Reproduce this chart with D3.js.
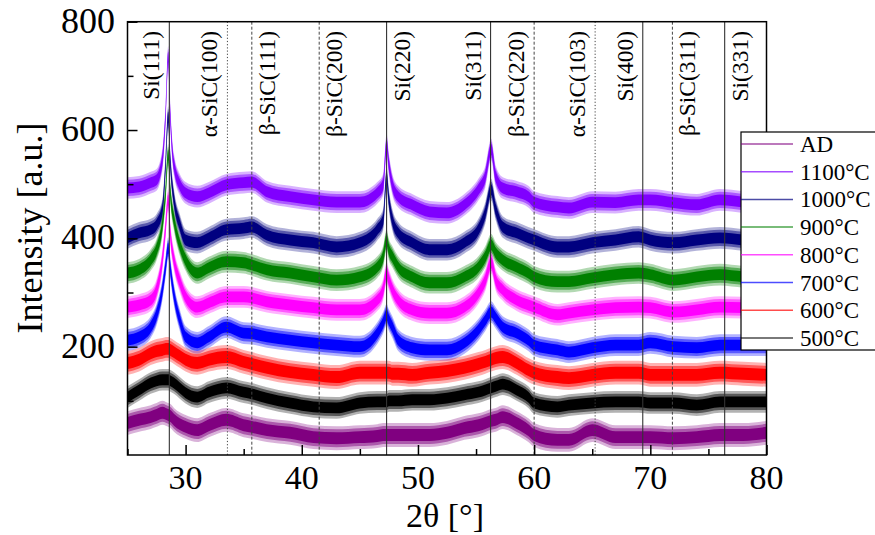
<!DOCTYPE html>
<html lang="en">
<head>
<meta charset="utf-8">
<title>XRD patterns</title>
<script src="https://cdn.jsdelivr.net/npm/d3@7"></script>
<style>
  body { margin: 0; background: #fff; }
  text { font-family: "Liberation Serif", "Times New Roman", serif; fill: #000; }
</style>
</head>
<body>
<script>
// 2theta sample positions (deg)
var theta = [25, 26, 27, 27.5, 28, 28.3, 28.5, 28.7, 29, 29.5, 30, 31, 32, 33.5, 35, 35.7, 37, 39, 41, 43,
             45, 46.5, 47, 47.3, 47.5, 47.8, 48.3, 49.5, 51, 52.5, 54, 55.2, 55.8, 56.3, 56.7, 57.3, 58.5, 59.5,
             60, 62, 63, 65, 67, 69, 70, 72, 74, 76, 78, 80];

// intensity (centre of the noisy trace)
var sAD   = [59, 65, 70, 74, 78, 76, 74, 72, 65, 57, 52, 46, 55, 65, 55, 52, 46, 41, 33, 31,
             33, 35, 37, 37, 37, 37, 37, 37, 37, 41, 50, 55, 59, 63, 65, 70, 59, 46,
             37, 28, 28, 46, 33, 33, 33, 31, 33, 37, 37, 41];
var s1100 = [493, 495, 503, 508, 545, 637, 735, 619, 536, 499, 484, 477, 484, 499, 503, 504, 486, 477, 471, 467,
             467, 484, 499, 573, 536, 499, 477, 462, 449, 447, 462, 490, 514, 564, 514, 493, 486, 477,
             467, 458, 456, 467, 466, 471, 471, 466, 462, 471, 467, 462];
var s1000 = [401, 410, 416, 425, 453, 545, 624, 536, 471, 425, 397, 392, 401, 416, 419, 421, 406, 397, 392, 384,
             392, 416, 434, 512, 471, 434, 410, 392, 379, 379, 392, 416, 447, 490, 453, 421, 410, 401,
             397, 384, 384, 392, 397, 403, 397, 392, 397, 401, 397, 392];
var s900  = [336, 342, 360, 379, 425, 490, 554, 481, 434, 388, 360, 336, 346, 357, 355, 351, 342, 336, 329, 323,
             329, 347, 366, 397, 379, 366, 347, 329, 318, 318, 329, 347, 366, 388, 373, 360, 347, 336,
             329, 320, 320, 327, 333, 336, 333, 323, 329, 333, 329, 327];
var s800  = [273, 277, 286, 305, 360, 425, 471, 406, 360, 320, 292, 273, 281, 292, 292, 290, 283, 277, 272, 268,
             268, 286, 305, 336, 323, 305, 286, 268, 262, 262, 273, 299, 323, 355, 323, 305, 286, 277,
             273, 259, 262, 268, 272, 273, 272, 264, 268, 273, 272, 268];
var s700  = [212, 218, 236, 259, 305, 351, 382, 342, 296, 249, 218, 207, 218, 236, 225, 224, 218, 212, 207, 203,
             200, 225, 244, 259, 249, 236, 212, 198, 194, 194, 207, 231, 249, 264, 253, 236, 225, 212,
             203, 194, 190, 198, 203, 203, 207, 200, 198, 203, 203, 203];
var s600  = [170, 176, 188, 192, 194, 196, 196, 194, 190, 183, 176, 170, 176, 181, 172, 168, 161, 153, 148, 144,
             152, 152, 152, 152, 152, 150, 150, 148, 152, 155, 161, 168, 172, 176, 179, 181, 170, 157,
             152, 144, 142, 148, 152, 152, 148, 148, 148, 152, 150, 148];
var s500  = [107, 120, 133, 137, 139, 139, 139, 137, 133, 124, 115, 107, 116, 124, 116, 113, 105, 96, 89, 87,
             96, 98, 98, 98, 100, 100, 100, 102, 102, 105, 111, 116, 120, 124, 127, 131, 120, 107,
             96, 89, 92, 96, 98, 98, 96, 96, 92, 98, 98, 98];

// half height of the noise band of each trace (a.u.)
var noise = [22, 20, 20, 20, 20, 20, 22, 20];

var seriesNames  = ["AD", "1100°C", "1000°C", "900°C", "800°C", "700°C", "600°C", "500°C"];
var seriesValues = [sAD, s1100, s1000, s900, s800, s700, s600, s500];
var seriesColors = ["#800080", "#8000ff", "#000080", "#008000", "#ff00ff", "#0000ff", "#ff0000", "#000000"];

// reflection markers
var peakNames = ["Si(111)", "α-SiC(100)", "β-SiC(111)", "β-SiC(200)", "Si(220)", "Si(311)",
                 "β-SiC(220)", "α-SiC(103)", "Si(400)", "β-SiC(311)", "Si(331)"];
var peakPos   = [28.6, 33.6, 35.7, 41.5, 47.3, 56.25, 60.0, 65.25, 69.35, 71.9, 76.4];
var peakKind  = ["Si", "a", "b", "b", "Si", "Si", "b", "a", "Si", "b", "Si"];
var labelSide = [-1, -1, 1, 1, 1, -1, -1, -1, -1, 1, 1];

var xTicks = [30, 40, 50, 60, 70, 80];
var yTicks = [200, 400, 600, 800];

var w = 875, h = 535;
var m = {left: 127.5, right: 108.5, top: 21.7, bottom: 80};

var svg = d3.select("body").append("svg")
  .attr("width", w)
  .attr("height", h);

var x = d3.scaleLinear().domain([25, 80]).range([m.left, w - m.right]);
var y = d3.scaleLinear().domain([0, 800]).range([h - m.bottom, m.top]);

svg.append("clipPath").attr("id", "plotclip")
  .append("rect")
  .attr("x", m.left).attr("y", m.top)
  .attr("width", x(80) - x(25)).attr("height", y(0) - y(800));

var plot = svg.append("g").attr("clip-path", "url(#plotclip)");

// traces drawn as noise bands
seriesValues.forEach(function(vals, i) {
  var pts = theta.map(function(t, k) { return [t, vals[k]]; });
  var band = function(f) {
    return d3.area()
      .x(function(d) { return x(d[0]); })
      .y0(function(d) { return y(d[1] - noise[i] * f); })
      .y1(function(d) { return y(d[1] + noise[i] * f); })
      .curve(d3.curveMonotoneX)(pts);
  };
  plot.append("path").attr("d", band(1.0))
    .attr("fill", seriesColors[i]).attr("opacity", 0.3);
  plot.append("path").attr("d", band(0.75))
    .attr("fill", seriesColors[i]).attr("opacity", 0.5);
  plot.append("path").attr("d", band(0.5))
    .attr("fill", seriesColors[i]);
});

// reflection lines
peakPos.forEach(function(p, i) {
  var ln = svg.append("line")
    .attr("x1", x(p)).attr("x2", x(p))
    .attr("y1", y(800)).attr("y2", y(0))
    .attr("stroke", peakKind[i] == "Si" ? "#333" : "#444")
    .attr("stroke-width", peakKind[i] == "Si" ? 1.1 : 1);
  if (peakKind[i] == "a") ln.attr("stroke-dasharray", "1.2,2");
  if (peakKind[i] == "b") ln.attr("stroke-dasharray", "3,2");

  var bx = labelSide[i] < 0 ? x(p) - 10 : x(p) + 23;
  svg.append("text")
    .attr("transform", "translate(" + bx + "," + 31 + ") rotate(-90)")
    .attr("text-anchor", "end")
    .style("font-size", "23.5px")
    .text(peakNames[i]);
});

// frame
svg.append("rect")
  .attr("x", m.left).attr("y", m.top)
  .attr("width", x(80) - x(25)).attr("height", y(0) - y(800))
  .attr("fill", "none").attr("stroke", "#000").attr("stroke-width", 1.5);

// x axis, ticks inside
var xAxis = svg.append("g").attr("transform", "translate(0," + y(0) + ")")
  .call(d3.axisBottom(x).tickValues(d3.range(25, 81, 5)).tickSize(-6).tickFormat(""));
xAxis.selectAll(".tick line").attr("stroke", "#000").attr("stroke-width", 1.5)
  .attr("y2", function(d) { return d % 10 == 0 ? -10 : -6; });
xAxis.select(".domain").remove();
svg.selectAll(".xlab").data(xTicks).enter().append("text")
  .attr("x", function(d) { return x(d); })
  .attr("y", 489)
  .attr("text-anchor", "middle")
  .style("font-size", "34px")
  .text(function(d) { return d; });

var yAxis = svg.append("g").attr("transform", "translate(" + x(25) + ",0)")
  .call(d3.axisLeft(y).tickValues(d3.range(100, 801, 100)).tickSize(-6).tickFormat(""));
yAxis.selectAll(".tick line").attr("stroke", "#000").attr("stroke-width", 1.5)
  .attr("x2", function(d) { return d % 200 == 0 ? 10 : 6; });
yAxis.select(".domain").remove();
svg.selectAll(".ylab").data(yTicks).enter().append("text")
  .attr("x", 115)
  .attr("y", function(d) { return y(d) + 11; })
  .attr("text-anchor", "end")
  .style("font-size", "36px")
  .text(function(d) { return d; });

// axis titles
svg.append("text")
  .attr("transform", "translate(42,228) rotate(-90)")
  .attr("text-anchor", "middle")
  .style("font-size", "36px")
  .text("Intensity [a.u.]");
svg.append("text")
  .attr("x", 445).attr("y", 527)
  .attr("text-anchor", "middle")
  .style("font-size", "34px")
  .text("2θ [°]");

// legend
var lg = svg.append("g");
lg.append("rect")
  .attr("x", 741).attr("y", 132)
  .attr("width", 150).attr("height", 218)
  .attr("fill", "#fff").attr("stroke", "#000").attr("stroke-width", 1.2);
seriesNames.forEach(function(n, i) {
  var ly = 144 + i * 27.7;
  lg.append("line")
    .attr("x1", 741).attr("x2", 793)
    .attr("y1", ly).attr("y2", ly)
    .attr("stroke", seriesColors[i]).attr("stroke-opacity", 0.7).attr("stroke-width", 1.5);
  lg.append("text")
    .attr("x", 800).attr("y", ly + 8)
    .style("font-size", "23px")
    .text(n);
});
</script>
</body>
</html>
